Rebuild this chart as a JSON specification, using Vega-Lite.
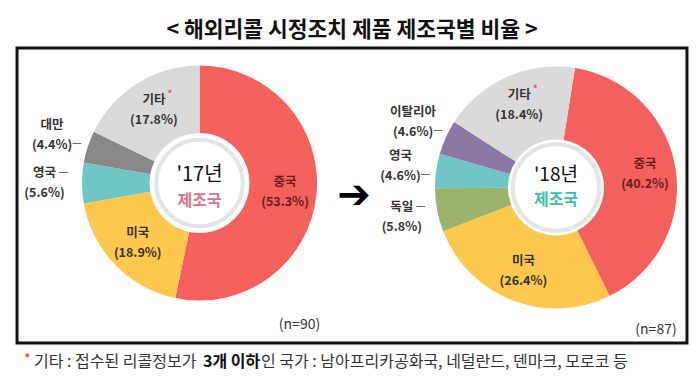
{
  "$schema": "https://vega.github.io/schema/vega-lite/v6.json",
  "background": "white",
  "padding": {"left": 15, "top": 20, "right": 15, "bottom": 0},
  "title": {"text": "< 해외리콜 시정조치 제품 제조국별 비율 >", "font": "Noto Sans CJK KR", "fontSize": 21.5, "fontWeight": "bold", "color": "#111111", "anchor": "middle", "frame": "group", "offset": -15},
  "config": {"font": "Noto Sans CJK KR", "view": {"stroke": null}},
  "spacing": 0,
  "datasets": {
    "slices": [
      {"year": "2017", "country": "중국", "pct": 53.3, "pctText": "(53.3%)", "ord": 1},
      {"year": "2017", "country": "미국", "pct": 18.9, "pctText": "(18.9%)", "ord": 2},
      {"year": "2017", "country": "영국", "pct": 5.6, "pctText": "(5.6%)", "ord": 3},
      {"year": "2017", "country": "대만", "pct": 4.4, "pctText": "(4.4%)", "ord": 4},
      {"year": "2017", "country": "기타", "pct": 17.8, "pctText": "(17.8%)", "ord": 5},
      {"year": "2018", "country": "중국", "pct": 40.2, "pctText": "(40.2%)", "ord": 1},
      {"year": "2018", "country": "미국", "pct": 26.4, "pctText": "(26.4%)", "ord": 2},
      {"year": "2018", "country": "독일", "pct": 5.8, "pctText": "(5.8%)", "ord": 3},
      {"year": "2018", "country": "영국", "pct": 4.6, "pctText": "(4.6%)", "ord": 4},
      {"year": "2018", "country": "이탈리아", "pct": 4.6, "pctText": "(4.6%)", "ord": 5},
      {"year": "2018", "country": "기타", "pct": 18.4, "pctText": "(18.4%)", "ord": 6}
    ],
    "centers": [
      {"year": "2017", "yearLabel": "'17년", "sub": "제조국", "n": "(n=90)"},
      {"year": "2018", "yearLabel": "'18년", "sub": "제조국", "n": "(n=87)"}
    ]
  },
  "vconcat": [
    {
      "width": 670,
      "height": 295,
      "view": {"stroke": "#111111", "strokeWidth": 3},
      "resolve": {"scale": {"theta": "independent"}},
      "layer": [
        {
          "data": {"name": "slices"},
          "transform": [{"filter": "datum.year === '2017'"}],
          "encoding": {
            "x": {"field": "year", "type": "nominal", "scale": {"type": "point", "domain": ["2017", "2018"], "range": [182.5, 539], "padding": 0}, "axis": null},
            "y": {"field": "year", "type": "nominal", "scale": {"type": "point", "domain": ["2017", "2018"], "range": [135, 139.5], "padding": 0}, "axis": null},
            "theta": {"field": "pct", "type": "quantitative", "stack": true, "scale": {"domain": [0, 100], "range": [0, 6.2832]}},
            "order": {"field": "ord", "type": "quantitative"}
          },
          "layer": [
            {
              "mark": {"type": "arc", "radius": 117.5, "radius2": 50},
              "encoding": {"color": {"field": "country", "type": "nominal", "legend": null, "scale": {"domain": ["중국", "미국", "영국", "대만", "기타", "독일", "이탈리아"], "range": ["#F4605E", "#FEC84F", "#6EC5C3", "#888888", "#DADADA", "#9BB36B", "#8C78A5"]}}}
            },
            {
              "mark": {"type": "text", "radius": 86, "dy": -10, "fontSize": 12.5, "fontWeight": "bold"},
              "encoding": {
                "text": {"condition": {"test": "datum.pct >= 7", "field": "country", "type": "nominal"}, "value": ""},
                "color": {"condition": {"test": "datum.country === '중국'", "value": "#6a1d1d"}, "value": "#333333"}
              }
            },
            {
              "mark": {"type": "text", "radius": 86, "dy": 10, "fontSize": 12.5, "fontWeight": "bold"},
              "encoding": {
                "text": {"condition": {"test": "datum.pct >= 7", "field": "pctText", "type": "nominal"}, "value": ""},
                "color": {"condition": {"test": "datum.country === '중국'", "value": "#6a1d1d"}, "value": "#333333"}
              }
            },
            {
              "mark": {"type": "text", "radius": 86, "dy": -15, "dx": 16, "fontSize": 11, "color": "#E53935"},
              "encoding": {"text": {"condition": {"test": "datum.country === '기타'", "value": "*"}, "value": ""}}
            },
            {
              "mark": {"type": "text", "radius": 155, "dy": -10, "fontSize": 12.5, "fontWeight": "bold", "color": "#333333"},
              "encoding": {"text": {"condition": {"test": "datum.pct < 7", "field": "country", "type": "nominal"}, "value": ""}}
            },
            {
              "mark": {"type": "text", "radius": 155, "dy": 10, "fontSize": 12.5, "fontWeight": "bold", "color": "#333333"},
              "encoding": {"text": {"condition": {"test": "datum.pct < 7", "field": "pctText", "type": "nominal"}, "value": ""}}
            },
            {
              "mark": {"type": "text", "radius": 155, "dy": -10, "dx": 14, "align": "left", "fontSize": 11, "color": "#444444"},
              "encoding": {"text": {"condition": {"test": "datum.pct < 7 && datum.country === '영국'", "value": "—"}, "value": ""}}
            },
            {
              "mark": {"type": "text", "radius": 155, "dy": 9, "dx": 20, "align": "left", "fontSize": 11, "color": "#444444"},
              "encoding": {"text": {"condition": {"test": "datum.pct < 7 && datum.country === '대만'", "value": "—"}, "value": ""}}
            }
          ]
        },
        {
          "data": {"name": "slices"},
          "transform": [{"filter": "datum.year === '2018'"}],
          "encoding": {
            "x": {"field": "year", "type": "nominal", "scale": {"type": "point", "domain": ["2017", "2018"], "range": [182.5, 539], "padding": 0}, "axis": null},
            "y": {"field": "year", "type": "nominal", "scale": {"type": "point", "domain": ["2017", "2018"], "range": [135, 139.5], "padding": 0}, "axis": null},
            "theta": {"field": "pct", "type": "quantitative", "stack": true, "scale": {"domain": [0, 100], "range": [0.157, 6.4402]}},
            "order": {"field": "ord", "type": "quantitative"}
          },
          "layer": [
            {
              "mark": {"type": "arc", "radius": 121, "radius2": 48},
              "encoding": {"color": {"field": "country", "type": "nominal", "legend": null, "scale": {"domain": ["중국", "미국", "영국", "대만", "기타", "독일", "이탈리아"], "range": ["#F4605E", "#FEC84F", "#6EC5C3", "#888888", "#DADADA", "#9BB36B", "#8C78A5"]}}}
            },
            {
              "mark": {"type": "text", "radius": 90, "dy": -10, "fontSize": 12.5, "fontWeight": "bold"},
              "encoding": {
                "text": {"condition": {"test": "datum.pct >= 7", "field": "country", "type": "nominal"}, "value": ""},
                "color": {"condition": {"test": "datum.country === '중국'", "value": "#6a1d1d"}, "value": "#333333"}
              }
            },
            {
              "mark": {"type": "text", "radius": 90, "dy": 10, "fontSize": 12.5, "fontWeight": "bold"},
              "encoding": {
                "text": {"condition": {"test": "datum.pct >= 7", "field": "pctText", "type": "nominal"}, "value": ""},
                "color": {"condition": {"test": "datum.country === '중국'", "value": "#6a1d1d"}, "value": "#333333"}
              }
            },
            {
              "mark": {"type": "text", "radius": 90, "dy": -15, "dx": 16, "fontSize": 11, "color": "#E53935"},
              "encoding": {"text": {"condition": {"test": "datum.country === '기타'", "value": "*"}, "value": ""}}
            },
            {
              "mark": {"type": "text", "radius": 157, "dy": -10, "fontSize": 12.5, "fontWeight": "bold", "color": "#333333"},
              "encoding": {"text": {"condition": {"test": "datum.pct < 7", "field": "country", "type": "nominal"}, "value": ""}}
            },
            {
              "mark": {"type": "text", "radius": 157, "dy": 10, "fontSize": 12.5, "fontWeight": "bold", "color": "#333333"},
              "encoding": {"text": {"condition": {"test": "datum.pct < 7", "field": "pctText", "type": "nominal"}, "value": ""}}
            },
            {
              "mark": {"type": "text", "radius": 157, "dy": -10, "dx": 14, "align": "left", "fontSize": 11, "color": "#444444"},
              "encoding": {"text": {"condition": {"test": "datum.country === '독일'", "value": "—"}, "value": ""}}
            },
            {
              "mark": {"type": "text", "radius": 157, "dy": 9, "dx": 20, "align": "left", "fontSize": 11, "color": "#444444"},
              "encoding": {"text": {"condition": {"test": "datum.pct < 7 && datum.country !== '독일'", "value": "—"}, "value": ""}}
            }
          ]
        },
        {
          "data": {"name": "centers"},
          "encoding": {
            "x": {"field": "year", "type": "nominal", "scale": {"type": "point", "domain": ["2017", "2018"], "range": [182.5, 539], "padding": 0}, "axis": null},
            "y": {"field": "year", "type": "nominal", "scale": {"type": "point", "domain": ["2017", "2018"], "range": [135, 139.5], "padding": 0}, "axis": null}
          },
          "layer": [
            {"mark": {"type": "point", "shape": "circle", "size": 7500, "filled": true, "fill": "#ffffff", "stroke": "#e4e4e4", "strokeWidth": 4, "opacity": 1}},
            {"transform": [{"filter": "datum.year === '2017'"}], "mark": {"type": "text", "fontSize": 20, "dy": -8, "color": "#111111"}, "encoding": {"text": {"field": "yearLabel", "type": "nominal"}}},
            {"transform": [{"filter": "datum.year === '2018'"}], "mark": {"type": "text", "fontSize": 19, "dy": -13, "color": "#111111"}, "encoding": {"text": {"field": "yearLabel", "type": "nominal"}}},
            {"transform": [{"filter": "datum.year === '2017'"}], "mark": {"type": "text", "fontSize": 16, "dy": 18, "fontWeight": "bold", "color": "#E2708C"}, "encoding": {"text": {"field": "sub", "type": "nominal"}}},
            {"transform": [{"filter": "datum.year === '2018'"}], "mark": {"type": "text", "fontSize": 16, "dy": 12, "fontWeight": "bold", "color": "#3DBFB2"}, "encoding": {"text": {"field": "sub", "type": "nominal"}}},
            {"mark": {"type": "text", "fontSize": 14, "dx": 100, "dy": 142, "color": "#333333"}, "encoding": {"text": {"field": "n", "type": "nominal"}}}
          ]
        },
        {
          "data": {"values": [{"a": "➔"}]},
          "mark": {"type": "text", "font": "DejaVu Sans", "fontSize": 40, "dx": 2, "color": "#000000"},
          "encoding": {"text": {"field": "a", "type": "nominal"}}
        }
      ]
    },
    {
      "width": 670,
      "height": 15,
      "data": {"values": [{"a": 1}]},
      "layer": [
        {"mark": {"type": "text", "text": "*", "align": "left", "dx": -328, "dy": -2, "fontSize": 14, "color": "#E53935"}},
        {"mark": {"type": "text", "text": "기타 : 접수된 리콜정보가", "align": "left", "dx": -318, "fontSize": 16, "color": "#333333"}},
        {"mark": {"type": "text", "text": "3개 이하", "align": "left", "dx": -149, "fontSize": 16, "fontWeight": "bold", "color": "#111111"}},
        {"mark": {"type": "text", "text": "인 국가 : 남아프리카공화국, 네덜란드, 덴마크, 모로코 등", "align": "left", "dx": -91, "fontSize": 16, "color": "#333333"}}
      ]
    }
  ]
}
